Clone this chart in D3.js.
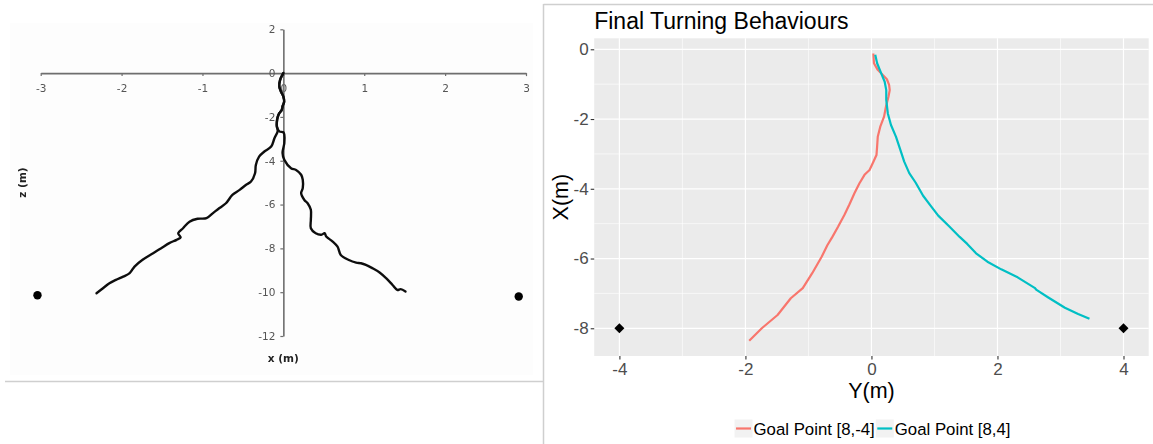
<!DOCTYPE html>
<html>
<head>
<meta charset="utf-8">
<script src="https://cdn.jsdelivr.net/npm/d3@7"></script>
<style>
  html, body { margin: 0; padding: 0; background: #fff; }
  svg { display: block; }
</style>
</head>
<body>
<svg id="chart" width="1153" height="444"></svg>
<script>
// ---------- Left panel: walked paths in the x–z plane ----------
const leftXTicks = [-3, -2, -1, 0, 1, 2, 3];
const leftZTicks = [2, 0, -2, -4, -6, -8, -10, -12];

// Path veering to the left goal [x, z]
const walkLeft = [
  [0, 0], [-0.04, -0.31], [-0.05, -0.61], [-0.03, -0.84], [0.00, -1.07], [0.01, -1.30],
  [-0.01, -1.52], [-0.02, -1.68], [-0.05, -1.83], [-0.07, -2.01], [-0.08, -2.21],
  [-0.08, -2.44], [-0.07, -2.65], [-0.11, -2.97], [-0.15, -3.35], [-0.235, -3.58],
  [-0.30, -3.81], [-0.34, -4.19], [-0.35, -4.57], [-0.40, -4.95], [-0.46, -5.10],
  [-0.54, -5.33], [-0.63, -5.56], [-0.71, -5.94], [-0.79, -6.16], [-0.87, -6.39],
  [-0.95, -6.62], [-1.06, -6.65], [-1.16, -6.78], [-1.24, -7.08], [-1.30, -7.31],
  [-1.27, -7.50], [-1.32, -7.61], [-1.41, -7.76], [-1.51, -7.99], [-1.61, -8.22],
  [-1.74, -8.52], [-1.84, -8.83], [-1.90, -9.13], [-1.98, -9.29], [-2.07, -9.44],
  [-2.15, -9.59], [-2.23, -9.82], [-2.31, -10.05]
];

// Path veering to the right goal [x, z]
const walkRight = [
  [0, 0], [-0.04, -0.31], [-0.05, -0.61], [-0.03, -0.84], [0.00, -1.07], [0.01, -1.30],
  [-0.01, -1.52], [-0.02, -1.68], [-0.05, -1.83], [-0.07, -2.01], [-0.08, -2.21],
  [-0.08, -2.44], [-0.05, -2.66], [0.00, -2.70], [0.012, -2.82], [0.012, -3.20],
  [-0.01, -3.65], [0.012, -3.96], [0.095, -4.34], [0.157, -4.42], [0.22, -4.64],
  [0.24, -4.87], [0.24, -5.25], [0.22, -5.48], [0.26, -5.79], [0.30, -5.94],
  [0.34, -6.24], [0.34, -6.70], [0.34, -7.08], [0.40, -7.31], [0.47, -7.38],
  [0.51, -7.31], [0.53, -7.46], [0.61, -7.69], [0.67, -7.92], [0.71, -8.30],
  [0.81, -8.53], [0.90, -8.65], [0.96, -8.68], [1.02, -8.75], [1.10, -8.90],
  [1.19, -9.10], [1.27, -9.36], [1.35, -9.67], [1.41, -9.90], [1.45, -9.86], [1.51, -9.97]
];

const leftGoals = [[-3.04, -10.14], [2.91, -10.2]];

// ---------- Right panel: simulated turning paths (Y, X) ----------
const rightXTicks = [-4, -2, 0, 2, 4];
const rightYTicks = [0, -2, -4, -6, -8];
const seriesNames = ["Goal Point [8,-4]", "Goal Point [8,4]"];
const seriesColors = ["#F8766D", "#00BFC4"];

const pathGoalNeg = [
  [0.03, -0.12], [0.04, -0.40], [0.10, -0.59], [0.18, -0.74], [0.245, -0.86],
  [0.28, -1.02], [0.29, -1.17], [0.27, -1.36], [0.23, -1.65], [0.20, -1.93],
  [0.14, -2.22], [0.10, -2.51], [0.09, -2.79], [0.08, -3.03], [0.02, -3.27],
  [-0.03, -3.46], [-0.11, -3.60], [-0.19, -3.84], [-0.27, -4.13], [-0.35, -4.45],
  [-0.43, -4.75], [-0.53, -5.09], [-0.62, -5.38], [-0.70, -5.62], [-0.79, -5.95],
  [-0.94, -6.42], [-1.09, -6.85], [-1.28, -7.14], [-1.49, -7.62], [-1.74, -8.00],
  [-1.94, -8.36]
];

const pathGoalPos = [
  [0.06, -0.16], [0.09, -0.40], [0.155, -0.69], [0.21, -0.93], [0.235, -1.17],
  [0.235, -1.45], [0.26, -1.84], [0.31, -2.17], [0.39, -2.51], [0.46, -2.89],
  [0.52, -3.22], [0.60, -3.55], [0.70, -3.82], [0.82, -4.20], [0.95, -4.51],
  [1.06, -4.77], [1.24, -5.09], [1.40, -5.38], [1.52, -5.58], [1.66, -5.85],
  [1.84, -6.09], [2.06, -6.31], [2.32, -6.54], [2.59, -6.84], [2.62, -6.90],
  [2.80, -7.11], [3.07, -7.41], [3.28, -7.59], [3.46, -7.73]
];

const rightGoals = [[-4, -8], [4, -8]];

// ---------- Drawing ----------
const svg = d3.select("#chart");
const plainNumber = d => String(d);   // hyphen-minus, as in the printed axes

const defs = svg.append("defs");
defs.append("filter").attr("id", "soft")
  .attr("x", "-5%").attr("y", "-5%").attr("width", "110%").attr("height", "110%")
  .append("feGaussianBlur").attr("stdDeviation", 0.45);

// Frame lines separating the two panels
const frame = svg.append("g").attr("stroke", "#cfcfcf").attr("stroke-width", 1.5).attr("fill", "none");
frame.append("line").attr("x1", 5).attr("x2", 544).attr("y1", 381.5).attr("y2", 381.5);
frame.append("line").attr("x1", 543.5).attr("x2", 543.5).attr("y1", 4).attr("y2", 444);
frame.append("line").attr("x1", 543.5).attr("x2", 1153).attr("y1", 4.5).attr("y2", 4.5);

// Left panel
const left = svg.append("g").attr("filter", "url(#soft)");
left.append("rect").attr("x", 10).attr("y", 23).attr("width", 523).attr("height", 352)
  .attr("fill", "#fdfdfd");

const lx = d3.scaleLinear().domain([-3, 3]).range([40.7, 526]);
const lz = d3.scaleLinear().domain([-12, 2]).range([336, 29.3]);

const lxAxis = left.append("g")
  .attr("transform", `translate(0,${lz(0)})`)
  .call(d3.axisBottom(lx).tickValues(leftXTicks).tickSize(3).tickPadding(8.5).tickSizeOuter(0)
    .tickFormat(plainNumber));
const lzAxis = left.append("g")
  .attr("transform", `translate(${lx(0)},0)`)
  .call(d3.axisLeft(lz).tickValues(leftZTicks).tickSize(3).tickPadding(5).tickSizeOuter(0)
    .tickFormat(plainNumber));
[lxAxis, lzAxis].forEach(g => {
  g.select(".domain").attr("stroke", "#6e6e6e").attr("stroke-width", 1.6);
  g.selectAll(".tick line").attr("stroke", "#6e6e6e").attr("stroke-width", 1.2);
  g.selectAll(".tick text").attr("fill", "#555")
    .style("font-family", "'DejaVu Sans', Verdana, sans-serif").style("font-size", "10.5px");
});

const leftLine = d3.line().x(d => lx(d[0])).y(d => lz(d[1])).curve(d3.curveCatmullRom.alpha(0.5));
left.selectAll("path.walk").data([walkLeft, walkRight]).join("path")
  .attr("class", "walk")
  .attr("d", leftLine)
  .attr("fill", "none").attr("stroke", "#111").attr("stroke-width", 2.4)
  .attr("stroke-linejoin", "round").attr("stroke-linecap", "round");

left.selectAll("circle.goal").data(leftGoals).join("circle")
  .attr("class", "goal")
  .attr("cx", d => lx(d[0])).attr("cy", d => lz(d[1])).attr("r", 4.2).attr("fill", "#000");

left.append("text").attr("x", lx(0)).attr("y", 362)
  .attr("text-anchor", "middle").attr("fill", "#222")
  .style("font-family", "'DejaVu Sans', Verdana, sans-serif").style("font-size", "10.5px")
  .style("font-weight", "bold").text("x (m)");
left.append("text").attr("transform", "translate(26,182.5) rotate(-90)")
  .attr("text-anchor", "middle").attr("fill", "#222")
  .style("font-family", "'DejaVu Sans', Verdana, sans-serif").style("font-size", "10.5px")
  .style("font-weight", "bold").text("z (m)");

// Right panel
const right = svg.append("g").style("font-family", "'Liberation Sans', Arial, sans-serif");
const rx = d3.scaleLinear().domain([-4.4, 4.4]).range([594.2, 1148.7]);
const ry = d3.scaleLinear().domain([-8.795, 0.315]).range([356, 38.3]);

right.append("rect")
  .attr("x", rx.range()[0]).attr("y", ry.range()[1])
  .attr("width", rx.range()[1] - rx.range()[0]).attr("height", ry.range()[0] - ry.range()[1])
  .attr("fill", "#ebebeb");

const grid = right.append("g").attr("stroke", "#fff").attr("fill", "none");
const minorX = [-3, -1, 1, 3], minorY = [-1, -3, -5, -7];
grid.selectAll("line.mx").data(minorX).join("line").attr("class", "mx")
  .attr("x1", d => rx(d)).attr("x2", d => rx(d)).attr("y1", ry.range()[1]).attr("y2", ry.range()[0])
  .attr("stroke-width", 0.6);
grid.selectAll("line.my").data(minorY).join("line").attr("class", "my")
  .attr("y1", d => ry(d)).attr("y2", d => ry(d)).attr("x1", rx.range()[0]).attr("x2", rx.range()[1])
  .attr("stroke-width", 0.6);
grid.selectAll("line.gx").data(rightXTicks).join("line").attr("class", "gx")
  .attr("x1", d => rx(d)).attr("x2", d => rx(d)).attr("y1", ry.range()[1]).attr("y2", ry.range()[0])
  .attr("stroke-width", 1.2);
grid.selectAll("line.gy").data(rightYTicks).join("line").attr("class", "gy")
  .attr("y1", d => ry(d)).attr("y2", d => ry(d)).attr("x1", rx.range()[0]).attr("x2", rx.range()[1])
  .attr("stroke-width", 1.2);

const rxAxis = right.append("g").attr("transform", `translate(0,${ry.range()[0]})`)
  .call(d3.axisBottom(rx).tickValues(rightXTicks).tickSize(3.5).tickPadding(3.8).tickFormat(plainNumber));
const ryAxis = right.append("g").attr("transform", `translate(${rx.range()[0]},0)`)
  .call(d3.axisLeft(ry).tickValues(rightYTicks).tickSize(3.5).tickPadding(2).tickFormat(plainNumber));
[rxAxis, ryAxis].forEach(g => {
  g.select(".domain").remove();
  g.selectAll(".tick line").attr("stroke", "#333").attr("stroke-width", 1.1);
  g.selectAll(".tick text").attr("fill", "#4d4d4d")
    .style("font-family", "'Liberation Sans', Arial, sans-serif").style("font-size", "17px");
});

const rightLine = d3.line().x(d => rx(d[0])).y(d => ry(d[1]));
right.selectAll("path.series").data([pathGoalNeg, pathGoalPos]).join("path")
  .attr("class", "series")
  .attr("d", rightLine)
  .attr("fill", "none")
  .attr("stroke", (d, i) => seriesColors[i])
  .attr("stroke-width", 2.2)
  .attr("stroke-linejoin", "round");

right.selectAll("path.goal").data(rightGoals).join("path")
  .attr("class", "goal")
  .attr("d", d3.symbol(d3.symbolSquare, 50))
  .attr("transform", d => `translate(${rx(d[0])},${ry(d[1])}) rotate(45)`)
  .attr("fill", "#000");

right.append("text").attr("x", rx.range()[0]).attr("y", 29)
  .attr("fill", "#000").style("font-size", "23px").text("Final Turning Behaviours");

right.append("text").attr("x", (rx.range()[0] + rx.range()[1]) / 2).attr("y", 398)
  .attr("text-anchor", "middle").attr("fill", "#000").style("font-size", "21.5px").text("Y(m)");
right.append("text")
  .attr("transform", `translate(568,${(ry.range()[0] + ry.range()[1]) / 2}) rotate(-90)`)
  .attr("text-anchor", "middle").attr("fill", "#000").style("font-size", "21.5px").text("X(m)");

// Legend: key boxes with line glyphs, laid out horizontally and centred
const legend = right.append("g");
const keyW = 18, keyH = 18, legendY = 428.5;
const items = seriesNames.map((name, i) => {
  const g = legend.append("g");
  g.append("rect").attr("x", 0).attr("y", -keyH / 2).attr("width", keyW).attr("height", keyH).attr("fill", "#f2f2f2");
  g.append("line").attr("x1", 1.5).attr("x2", keyW - 1.5).attr("y1", 0).attr("y2", 0)
    .attr("stroke", seriesColors[i]).attr("stroke-width", 2.2);
  const t = g.append("text").attr("x", keyW + 1).attr("y", 0).attr("dy", "0.36em")
    .attr("fill", "#000").style("font-size", "16.8px").text(name);
  return { g, w: keyW + 1 + t.node().getComputedTextLength() + 1 };
});
const totalW = d3.sum(items, d => d.w);
let cx = 873 - totalW / 2;
items.forEach(it => { it.g.attr("transform", `translate(${cx},${legendY})`); cx += it.w; });
</script>
</body>
</html>
